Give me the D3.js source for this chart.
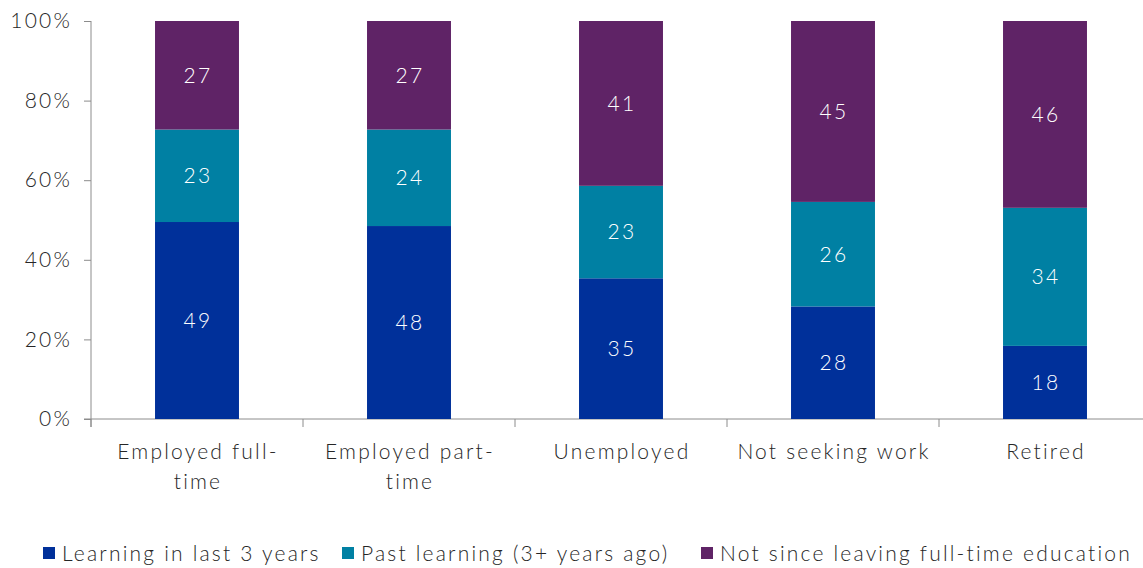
<!DOCTYPE html>
<html><head><meta charset="utf-8">
<script src="https://cdn.jsdelivr.net/npm/d3@7"></script>
<style>
body{margin:0;background:#fff;}
svg text{font-family:"Lato","Noto Sans",sans-serif;font-weight:300;letter-spacing:2.2px;}
</style></head>
<body><svg id="c" width="1143" height="568"></svg>
<script>
const categories = [["Employed full-","time"],["Employed part-","time"],["Unemployed"],["Not seeking work"],["Retired"]];
const seriesNames = ["Learning in last 3 years","Past learning (3+ years ago)","Not since leaving full-time education"];
const learningRecent = [49,48,35,28,18];
const learningPast = [23,24,23,26,34];
const notSince = [27,27,41,45,46];
const yTicks = [0,0.2,0.4,0.6,0.8,1];
const colors = ["#00309a","#0080a3","#5f2366"];

const svg = d3.select("#c");
const rows = categories.map((c,i)=>({i, a:learningRecent[i], b:learningPast[i], c:notSince[i]}));
const stack = d3.stack().keys(["a","b","c"]).offset(d3.stackOffsetExpand);
const series = stack(rows);
const raw = [learningRecent, learningPast, notSince];

const x = d3.scaleBand().domain(d3.range(categories.length)).range([91,1151]).paddingInner(0.604).paddingOuter(0.302);
const y = d3.scaleLinear().domain([0,1]).range([419,21]);

// y axis
const ya = svg.append("g").attr("transform","translate(91,0)")
  .call(d3.axisLeft(y).tickValues(yTicks).tickFormat(d3.format(".0%")).tickSize(7).tickSizeOuter(0));
ya.select(".domain").remove();
ya.selectAll(".tick line").attr("stroke","#8c8c8c");
ya.selectAll(".tick text").attr("x",-19).attr("font-size",21).attr("fill","#262626");
svg.append("line").attr("x1",91).attr("x2",91).attr("y1",y(1)).attr("y2",427).attr("stroke","#8c8c8c");

// x axis
svg.append("line").attr("x1",84).attr("x2",1143).attr("y1",y(0)).attr("y2",y(0)).attr("stroke","#8c8c8c");
const step = x.step();
svg.selectAll(".xt").data(d3.range(categories.length+1)).join("line")
  .attr("x1",d=>91+d*step).attr("x2",d=>91+d*step).attr("y1",y(0)).attr("y2",y(0)+8).attr("stroke","#8c8c8c");

// bars
series.forEach((s,k)=>{
  const g = svg.append("g");
  g.selectAll("rect").data(s).join("rect")
    .attr("x",(d,i)=>x(i)).attr("width",x.bandwidth())
    .attr("y",d=>y(d[1])).attr("height",d=>y(d[0])-y(d[1]))
    .attr("fill",colors[k]);
  g.selectAll("text").data(s).join("text")
    .attr("x",(d,i)=>x(i)+x.bandwidth()/2+1).attr("y",d=>y((d[0]+d[1])/2))
    .attr("dy","0.35em").attr("text-anchor","middle").attr("font-size",21).attr("fill","#fff")
    .text((d,i)=>raw[k][i]);
});

// category labels
categories.forEach((lines,i)=>{
  const t = svg.append("text").attr("text-anchor","middle").attr("font-size",21).attr("fill","#262626");
  lines.forEach((l,j)=>t.append("tspan").attr("x",x(i)+x.bandwidth()/2+1).attr("y",459+j*30).text(l));
});

// legend
const legX = [43,342,701];
seriesNames.forEach((n,k)=>{
  svg.append("rect").attr("x",legX[k]).attr("y",547).attr("width",12).attr("height",12).attr("fill",colors[k]);
  svg.append("text").attr("x",legX[k]+19).attr("y",561).attr("font-size",21).attr("fill","#262626").text(n);
});
</script></body></html>
